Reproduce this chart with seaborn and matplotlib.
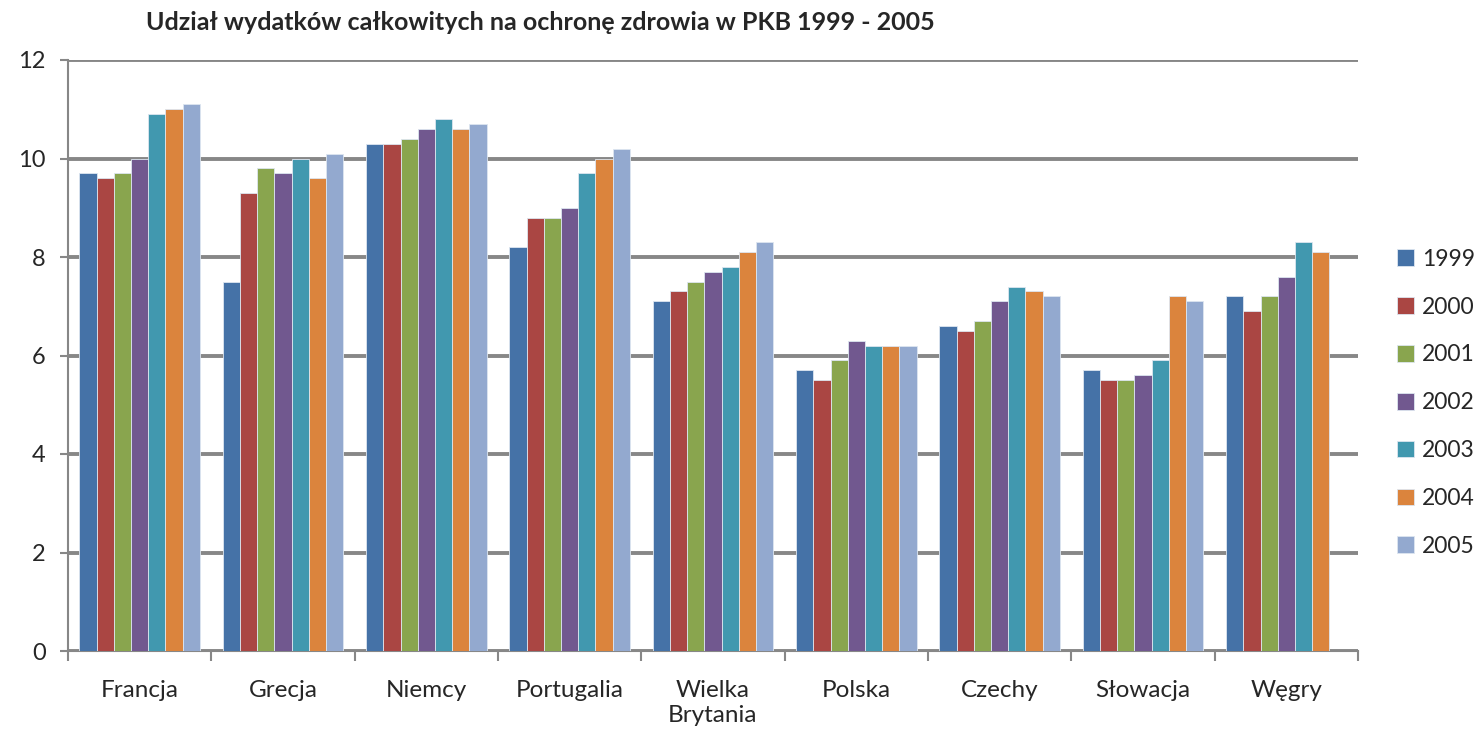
import numpy as np
import pandas as pd
import matplotlib
matplotlib.use("Agg")
import matplotlib.pyplot as plt
import seaborn as sns
from matplotlib.patches import Patch

# data
countries = ["Francja", "Grecja", "Niemcy", "Portugalia", "Wielka\nBrytania",
             "Polska", "Czechy", "Słowacja", "Węgry"]
years = ["1999", "2000", "2001", "2002", "2003", "2004", "2005"]
v1999 = [9.7, 7.5, 10.3, 8.2, 7.1, 5.7, 6.6, 5.7, 7.2]
v2000 = [9.6, 9.3, 10.3, 8.8, 7.3, 5.5, 6.5, 5.5, 6.9]
v2001 = [9.7, 9.8, 10.4, 8.8, 7.5, 5.9, 6.7, 5.5, 7.2]
v2002 = [10.0, 9.7, 10.6, 9.0, 7.7, 6.3, 7.1, 5.6, 7.6]
v2003 = [10.9, 10.0, 10.8, 9.7, 7.8, 6.2, 7.4, 5.9, 8.3]
v2004 = [11.0, 9.6, 10.6, 10.0, 8.1, 6.2, 7.3, 7.2, 8.1]
v2005 = [11.1, 10.1, 10.7, 10.2, 8.3, 6.2, 7.2, 7.1, np.nan]
colors = ["#4572A7", "#AA4643", "#89A54E", "#71588F", "#4198AF", "#DB843D", "#93A9CF"]

series = [v1999, v2000, v2001, v2002, v2003, v2004, v2005]
rows = []
for y, vals in zip(years, series):
    for c, v in zip(countries, vals):
        rows.append({"kraj": c, "rok": y, "udzial": v})
df = pd.DataFrame(rows).dropna()

sns.set_style("white")
plt.rcParams["font.family"] = ["Lato", "DejaVu Sans"]

fig = plt.figure(figsize=(14.83, 7.37), dpi=100)
ax = fig.add_axes([68 / 1483, 1 - 651 / 737, 1290 / 1483, 591 / 737])

sns.barplot(data=df, x="kraj", y="udzial", hue="rok", order=countries,
            hue_order=years, palette=colors, width=0.84, gap=0,
            errorbar=None, saturation=1, edgecolor="#dde6f0", linewidth=0.6,
            ax=ax, zorder=3)

ax.set_ylim(0, 12)
ax.set_xlim(-0.5, len(countries) - 0.5)
ax.set_yticks(range(0, 13, 2))
ax.yaxis.grid(True, color="#878787", linewidth=2.8, zorder=0)
ax.set_axisbelow(True)
ax.set_xlabel("")
ax.set_ylabel("")
ax.tick_params(axis="y", labelsize=17, length=6, width=1.5, color="#878787", left=True, pad=10)
ax.tick_params(axis="x", labelsize=17.5, length=0, pad=21)
ax.set_xticks(np.arange(-0.5, len(countries), 1), minor=True)
ax.tick_params(axis="x", which="minor", length=7, width=1.5, color="#878787", bottom=True)
for lab in ax.get_xticklabels():
    lab.set_linespacing(1.25)

for s in ["top", "right"]:
    ax.spines[s].set_visible(False)
for s in ["left", "bottom"]:
    ax.spines[s].set_color("#878787")
    ax.spines[s].set_linewidth(1.5)

handles = [Patch(facecolor=c, edgecolor="#dde6f0", linewidth=0.6) for c in colors]
ax.legend(handles, years, loc="center left", bbox_to_anchor=(1.03, 0.42),
          frameon=False, fontsize=16.5, handlelength=0.75, handleheight=0.75,
          handletextpad=0.35, labelspacing=1.17, borderpad=0, borderaxespad=0)

fig.text(540 / 1483, 1 - 22 / 737, "Udział wydatków całkowitych na ochronę zdrowia w PKB 1999 - 2005",
         ha="center", va="center", fontsize=18, fontweight="bold")

fig.savefig("out.png", dpi=100, facecolor="white")
